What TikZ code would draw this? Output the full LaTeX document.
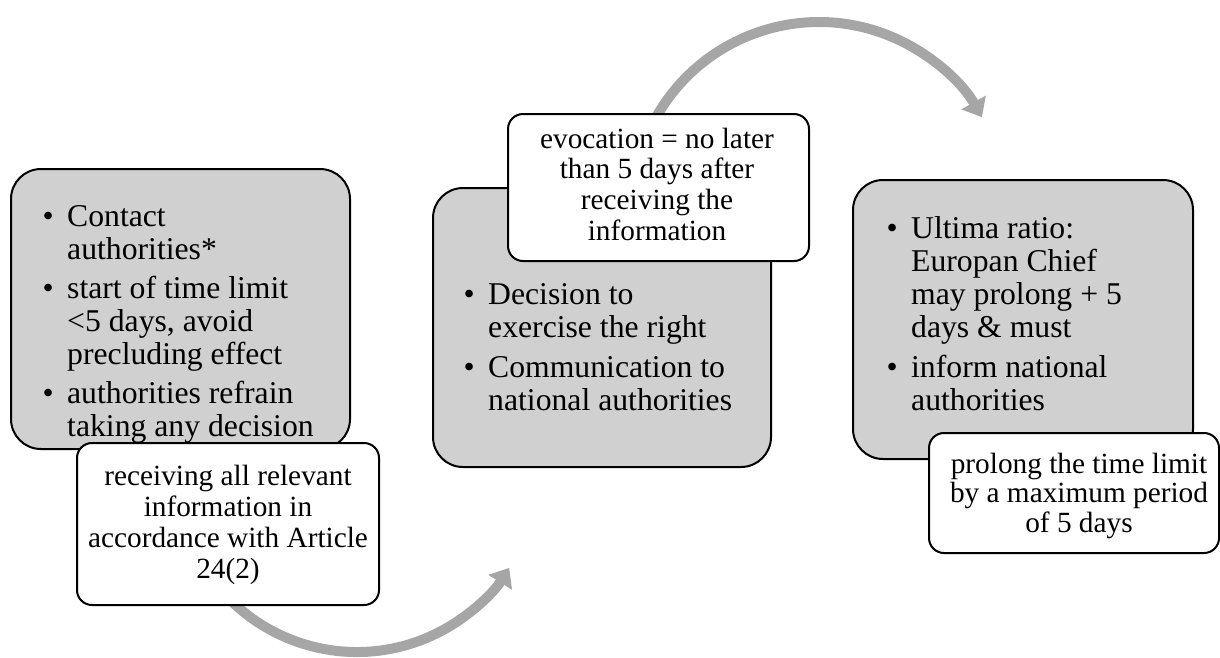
\documentclass[tikz,border=0pt]{standalone}
\usepackage{fontspec}
\setmainfont{Liberation Serif}
\usetikzlibrary{arrows.meta}
\definecolor{boxgray}{RGB}{208,208,208}
\definecolor{arcgray}{RGB}{166,166,166}
\newcommand{\mybul}{\makebox[0pt][r]{\textbullet\hspace{13.5pt}}}
\tikzset{
  graybox/.style={draw=black, line width=2pt, fill=boxgray, rounded corners=30pt,
    inner sep=0pt, anchor=north west},
  whitebox/.style={draw=black, line width=2pt, fill=white, rounded corners=15pt,
    inner sep=0pt, anchor=north west},
  flowarc/.style={draw=arcgray, line width=10pt, -{Triangle[length=17pt,width=27pt]}},
  listtxt/.style={inner sep=0pt, anchor=base west},
  ctrtxt/.style={inner sep=0pt, anchor=base}
}
\begin{document}
\begin{tikzpicture}[x=1pt,y=-1pt]
\useasboundingbox (0,0) rectangle (1220,657);
% curved arrows (behind the boxes)
\coordinate (a1) at (201,562);
\coordinate (a2) at (649.5,130);
\draw[flowarc] (a1) arc[start angle=210, end angle=327.8, radius=180pt];
\draw[flowarc] (a2) arc[start angle=155, end angle=29.4, radius=187pt];
% step 1
\node[graybox, minimum width=339pt, minimum height=280pt] (g1) at (10,168) {};
\node[listtxt] (t1) at (67,226) {\parbox[t]{300pt}{\fontsize{31.7}{33}\selectfont\raggedright
  \mybul Contact\\ authorities*\\[6pt]
  \mybul start of time limit\\ <5 days, avoid\\ precluding effect\\[6pt]
  \mybul authorities refrain\\ taking any decision}};
\node[whitebox, minimum width=302pt, minimum height=162pt] (w1) at (76,442) {};
\node[ctrtxt] (u1) at (228,485) {\parbox[t]{300pt}{\centering\fontsize{29.3}{31}\selectfont
  receiving all relevant\\ information in\\ accordance with Article\\ 24(2)}};
% step 2
\node[graybox, minimum width=338pt, minimum height=279pt] (g2) at (432,187) {};
\node[listtxt] (t2) at (488,304) {\parbox[t]{300pt}{\fontsize{31.7}{33}\selectfont\raggedright
  \mybul Decision to\\ exercise the right\\[7pt]
  \mybul Communication to\\ national authorities}};
\node[whitebox, minimum width=301pt, minimum height=147pt] (w2) at (507,113) {};
\node[ctrtxt] (u2) at (657,148) {\parbox[t]{300pt}{\centering\fontsize{29.3}{30.7}\selectfont
  evocation = no later\\ than 5 days after\\ receiving the\\ information}};
% step 3
\node[graybox, minimum width=340pt, minimum height=279pt] (g3) at (852,179) {};
\node[listtxt] (t3) at (911,238) {\parbox[t]{300pt}{\fontsize{31.7}{33}\selectfont\raggedright
  \mybul Ultima ratio:\\ Europan Chief\\ may prolong + 5\\ days \& must\\[7pt]
  \mybul inform national\\ authorities}};
\node[whitebox, minimum width=290pt, minimum height=120pt] (w3) at (928,432) {};
\node[ctrtxt] (u3) at (1079,473) {\parbox[t]{290pt}{\centering\fontsize{29.3}{29.5}\selectfont
  prolong the time limit\\ by a maximum period\\ of 5 days}};
\end{tikzpicture}
\end{document}
